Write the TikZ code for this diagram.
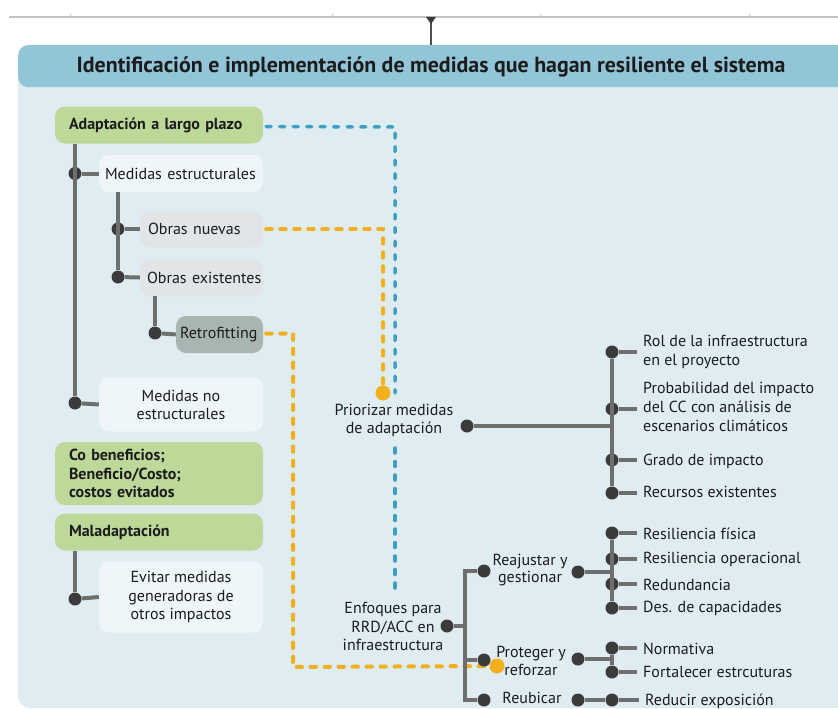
\documentclass[tikz,border=0pt]{standalone}
\usepackage{fontspec}
\setmainfont{PT Sans}
\usetikzlibrary{calc}
\definecolor{panel}{HTML}{DFEDF3}
\definecolor{head}{HTML}{93C5D8}
\definecolor{grn}{HTML}{BCD99A}
\definecolor{wbox}{HTML}{EEF6F9}
\definecolor{gbox}{HTML}{E1E5E7}
\definecolor{rbox}{HTML}{A8B6B1}
\definecolor{lgray}{HTML}{6E6E6E}
\definecolor{dgray}{HTML}{3B3B3B}
\definecolor{orng}{HTML}{F2B01E}
\definecolor{blu}{HTML}{3E9FC0}
\definecolor{txt}{HTML}{1C1C1C}
\definecolor{topln}{HTML}{C4C4C4}
\newcommand{\rfont}{\fontsize{16}{18.5}\selectfont}
\tikzset{
  tree/.style={draw=lgray, line width=4pt},
  dot/.style={circle, fill=dgray, minimum size=13pt, inner sep=0pt},
  odot/.style={circle, fill=orng, minimum size=15pt, inner sep=0pt},
  bdash/.style={draw=blu, line width=3.5pt, dash pattern=on 5pt off 8.5pt, line cap=round},
  odash/.style={draw=orng, line width=4pt, dash pattern=on 5.5pt off 8.5pt, line cap=round},
  bx/.style={rounded corners=10pt, inner sep=0pt, text=txt},
  bold/.style={font=\fontsize{16}{18.5}\bfseries\selectfont},
  lbl/.style={inner sep=0pt, text=txt, align=left, anchor=west},
  clbl/.style={inner sep=0pt, text=txt, align=center},
}
\begin{document}
\begin{tikzpicture}[x=1pt,y=-1pt, font=\rfont]
\useasboundingbox (0,0) rectangle (838,709);
% top rule
\draw[topln, line width=1.5pt] (9,17) -- (838,17);
\foreach \tx in {70,332,540,749} \draw[topln, line width=0.8pt] (\tx,17) -- (\tx+1,14);
\begin{scope}
\clip (0,0) rectangle (838,709);
\fill[panel, rounded corners=12pt] (18,45) rectangle (860,708);
\node[bx, fill=head, minimum width=842pt, minimum height=42pt, anchor=north west] (title) at (18,45) {};
\end{scope}
\node[inner sep=0pt, text=txt, font=\fontsize{21.9}{24}\bfseries\selectfont] (ttext) at (431,67) {Identificación e implementación de medidas que hagan resiliente el sistema};
\coordinate (topc) at (431,21);
\draw[draw=dgray!90, line width=2.5pt] (topc) -- (topc |- title.north);
\fill[dgray] (426,17) -- (436,17) -- (431,24) -- cycle;

% left boxes
\node[bx, bold, fill=grn, minimum width=208pt, minimum height=37pt, text width=180pt, align=left] (adapt) at (159,125) {\mbox{Adaptación a largo plazo}};
\node[bx, fill=wbox, minimum width=164pt, minimum height=37pt, text width=152pt, align=left] (mest) at (181,173.5) {\mbox{Medidas estructurales}};
\node[bx, fill=gbox, minimum width=123pt, minimum height=36pt, text width=107pt, align=left] (onue) at (201.5,229) {\mbox{Obras nuevas}};
\node[bx, fill=gbox, minimum width=123pt, minimum height=37pt, text width=109pt, align=left] (oexi) at (201.5,277.5) {\mbox{Obras existentes}};
\node[bx, fill=rbox, minimum width=87pt, minimum height=37pt, text width=79pt, align=left] (retro) at (219.5,334.5) {\mbox{Retrofitting}};
\node[bx, fill=wbox, minimum width=164pt, minimum height=54pt, align=center, font=\fontsize{16}{18}\selectfont] (mnoe) at (181,404.5) {Medidas no\\estructurales};
\node[bx, bold, fill=grn, minimum width=208pt, minimum height=63pt, text width=180pt, align=left] (cobe) at (159,473.5) {Co beneficios;\\Beneficio/Costo;\\costos evitados};
\node[bx, bold, fill=grn, minimum width=208pt, minimum height=37pt, text width=180pt, align=left] (malad) at (159,532) {\mbox{Maladaptación}};
\node[bx, fill=wbox, minimum width=164pt, minimum height=71pt, align=center] (evit) at (181,597) {Evitar medidas\\generadoras de\\otros impactos};

% left tree
\node[dot] (d1) at (75,173.5) {};
\node[dot] (d2) at (75,403) {};
\node[dot] (d3) at (118,229) {};
\node[dot] (d4) at (118,277) {};
\node[dot] (d5) at (155,333) {};
\node[dot] (d6) at (75,599) {};
\draw[tree] (adapt.south -| d1) -- (d2);
\draw[tree] (d1) -- (mest.west);
\draw[tree] (d2) -- (mnoe.west);
\draw[tree] (mest.south -| d3) -- (d4);
\draw[tree] (d3) -- (onue.west);
\draw[tree] (d4) -- (oexi.west);
\draw[tree] (oexi.south -| d5) -- (d5);
\draw[tree] (d5) -- (retro.west);
\draw[tree] (malad.south -| d6) -- (d6);
\draw[tree] (d6) -- (evit.west);

% middle labels
\node[clbl] (prio) at (394,420.5) {Priorizar medidas\\de adaptación};
\node[clbl] (enfo) at (393,626.5) {Enfoques para\\RRD/ACC en\\infraestructura};

% dashed connectors
\coordinate (bc1) at (395,127);
\coordinate (bend1) at (395,393);
\coordinate (bst2) at (395,448);
\coordinate (bend2) at (395,596);
\draw[bdash] ($(adapt.east)+(3,1.5)$) -- (bc1) -- (bend1);
\draw[bdash] (bst2) -- (bend2);
\node[odot] (od1) at (383,393) {};
\draw[odash] ($(onue.east)+(3,0)$) -- (onue.east -| od1) -- (od1);
\node[odot] (od2) at (497,666) {};
\coordinate (oc2) at (293,667);
\draw[odash] ($(retro.east)+(3,-1)$) -- ($(retro.east)+(30,-1)$) -- (oc2) -- (od2);

% Priorizar tree
\node[dot] (pd) at (467,426) {};
\node[dot] (p1) at (612,352) {};
\node[dot] (p2) at (612,409) {};
\node[dot] (p3) at (612,460) {};
\node[dot] (p4) at (612,493) {};
\node[lbl] (pl1) at (643,352) {Rol de la infraestructura\\en el proyecto};
\node[lbl, font=\fontsize{16}{19}\selectfont] (pl2) at (643,407) {Probabilidad del impacto\\del CC con análisis de\\escenarios climáticos};
\node[lbl] (pl3) at (643,461) {Grado de impacto};
\node[lbl] (pl4) at (643,492) {Recursos existentes};
\draw[tree] (pd) -- (pd -| p1);
\draw[tree] (p1) -- (p4);
\foreach \i in {1,2,3,4} \draw[tree, shorten >=6pt] (p\i) -- (p\i -| pl\i.west);

% Enfoques tree
\node[dot] (ed) at (447,626) {};
\coordinate (etx) at (465,626);
\node[dot] (e1) at (484,571) {};
\node[dot] (e2) at (484,660) {};
\node[dot] (e3) at (484,700) {};
\draw[tree] (ed) -- (etx);
\draw[tree] (e1) -- (e1 -| etx) -- (e3 -| etx) -- (e3);
\draw[tree] (e2) -- (e2 -| etx);
\node[clbl, font=\fontsize{16}{17.5}\selectfont] (reaj) at (530,570) {Reajustar y\\gestionar};
\node[clbl, font=\fontsize{16}{17.5}\selectfont] (prot) at (531,661) {Proteger y\\reforzar};
\node[clbl] (reub) at (532,698) {Reubicar};

% Reajustar
\node[dot] (rg) at (578,572) {};
\node[dot] (a1) at (612,533) {};
\node[dot] (a2) at (612,559) {};
\node[dot] (a3) at (612,584) {};
\node[dot] (a4) at (612,608) {};
\node[lbl] (al1) at (643,534) {Resiliencia física};
\node[lbl] (al2) at (643,559) {Resiliencia operacional};
\node[lbl] (al3) at (643,585) {Redundancia};
\node[lbl] (al4) at (643,608) {Des. de capacidades};
\draw[tree] (rg) -- (rg -| a1);
\draw[tree] (a1) -- (a4);
\foreach \i in {1,2,3,4} \draw[tree, shorten >=6pt] (a\i) -- (a\i -| al\i.west);

% Proteger
\node[dot] (pg) at (578,659) {};
\node[dot] (b1) at (612,648) {};
\node[dot] (b2) at (612,672) {};
\node[lbl] (bl1) at (643,649) {Normativa};
\node[lbl] (bl2) at (643,672) {Fortalecer estrcuturas};
\draw[tree] (pg) -- (pg -| b1);
\draw[tree] (b1) -- (b2);
\foreach \i in {1,2} \draw[tree, shorten >=6pt] (b\i) -- (b\i -| bl\i.west);

% Reubicar
\node[dot] (ug) at (578,700) {};
\node[dot] (c1) at (612,700) {};
\node[lbl] (cl1) at (645,701) {Reducir exposición};
\draw[tree] (ug) -- (c1);
\draw[tree, shorten >=6pt] (c1) -- (c1 -| cl1.west);
\end{tikzpicture}
\end{document}
